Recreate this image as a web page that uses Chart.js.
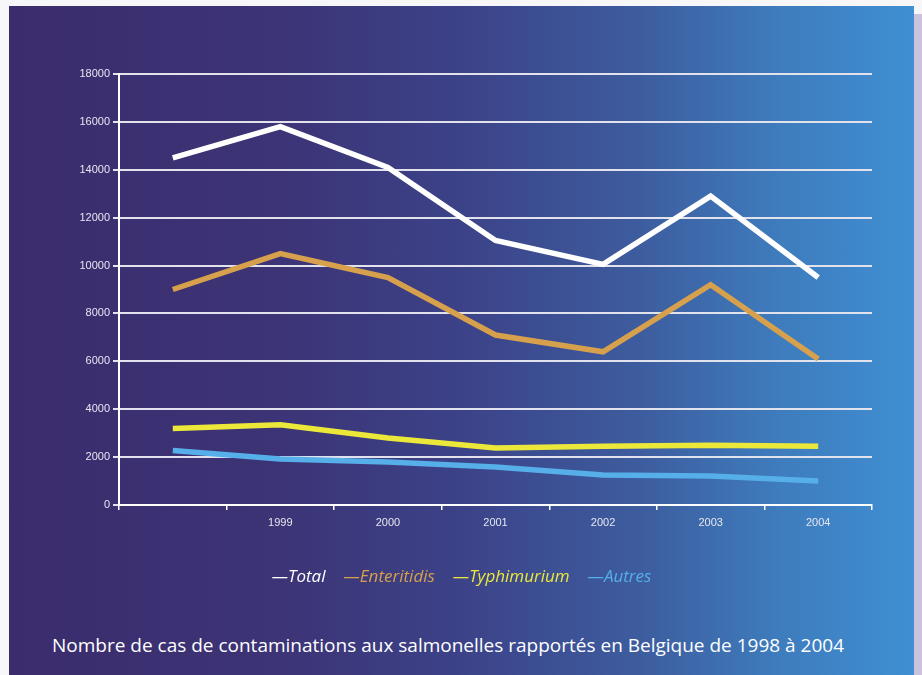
<!DOCTYPE html>
<html>
<head>
<meta charset="utf-8">
<script src="https://cdn.jsdelivr.net/npm/chart.js@4"></script>
<style>
    body { margin: 0; width: 922px; height: 675px; background: #f7f7f9; position: relative; overflow: hidden; }
    #shadow { position: absolute; left: 914px; top: 14px; width: 8px; height: 661px; background: #cbc3dd; }
    #panel {
        position: absolute; left: 9px; top: 6px; width: 905px; height: 669px;
        background: linear-gradient(to right, #3b2c6d 0%, #3c3476 30%, #3c4288 50%, #3d5d9f 70%, #3e7cbd 85%, #3f8fd3 100%);
    }
    #chartBox { position: absolute; left: 0; top: 0; width: 905px; height: 560px; }
    #legend {
        position: absolute; left: 0; width: 905px; top: 558px; text-align: center;
        font-family: "Open Sans", sans-serif; font-style: italic; font-size: 17px;
    }
    #legend span { margin: 0 9px; }
    #caption {
        position: absolute; left: 43px; top: 626px; color: #ffffff;
        font-family: "Open Sans", sans-serif; font-size: 19px; white-space: nowrap;
    }
</style>
</head>
<body>
<div id="shadow"></div>
<div id="panel">
    <div id="chartBox"><canvas id="lineChart" width="905" height="560"></canvas></div>
    <div id="legend"></div>
    <div id="caption">Nombre de cas de contaminations aux salmonelles rapportés en Belgique de 1998 à 2004</div>
</div>
<script>
var years = ['1998', '1999', '2000', '2001', '2002', '2003', '2004'];
var total = [14500, 15800, 14100, 11050, 10050, 12900, 9500];
var enteritidis = [9000, 10500, 9500, 7100, 6400, 9200, 6100];
var typhimurium = [3200, 3350, 2800, 2380, 2450, 2500, 2450];
var autres = [2280, 1920, 1800, 1590, 1250, 1210, 1000];
var yTicks = [0, 2000, 4000, 6000, 8000, 10000, 12000, 14000, 16000, 18000];

var series = [
    { label: 'Total', data: total, color: '#ffffff' },
    { label: 'Enteritidis', data: enteritidis, color: '#d6a04c' },
    { label: 'Typhimurium', data: typhimurium, color: '#ece83a' },
    { label: 'Autres', data: autres, color: '#56afe8' }
];

var ctx = document.getElementById('lineChart').getContext('2d');
var lineChart = new Chart(ctx, {
    type: 'line',
    data: {
        labels: years,
        datasets: series.map(function (s) {
            return {
                label: s.label,
                data: s.data,
                borderColor: s.color,
                backgroundColor: s.color,
                borderWidth: 5.5,
                pointRadius: 0,
                tension: 0,
                fill: false
            };
        })
    },
    options: {
        responsive: false,
        animation: false,
        layout: { padding: { left: 60, top: 68, right: 42, bottom: 21 } },
        scales: {
            x: {
                offset: true,
                grid: { offset: true, drawOnChartArea: false, drawTicks: true, tickLength: 5, color: '#ffffff', lineWidth: 1.5 },
                border: { color: '#ffffff', width: 2 },
                ticks: {
                    color: '#e6e6f0', padding: 6,
                    font: { family: 'Liberation Sans', size: 11 },
                    callback: function (v, i) { return i === 0 ? '' : years[i]; }
                },
                afterFit: function (s) { s.height = 40; }
            },
            y: {
                min: 0, max: 18000,
                afterBuildTicks: function (s) { s.ticks = yTicks.map(function (v) { return { value: v }; }); },
                grid: { color: '#e2e2ec', lineWidth: 2, tickLength: 6 },
                border: { color: '#ffffff', width: 2 },
                ticks: {
                    color: '#e6e6f0', padding: 3,
                    font: { family: 'Liberation Sans', size: 11 },
                    callback: function (v) { return String(v); }
                },
                afterFit: function (s) { s.width = 50; }
            }
        },
        plugins: {
            legend: { display: false },
            title: { display: false },
            tooltip: { enabled: false }
        }
    }
});

// legend like the original: dash then italic name
var legend = document.getElementById('legend');
series.forEach(function (s) {
    var item = document.createElement('span');
    item.style.color = s.color;
    item.textContent = '\u2014' + s.label;
    legend.appendChild(item);
});
</script>
</body>
</html>
